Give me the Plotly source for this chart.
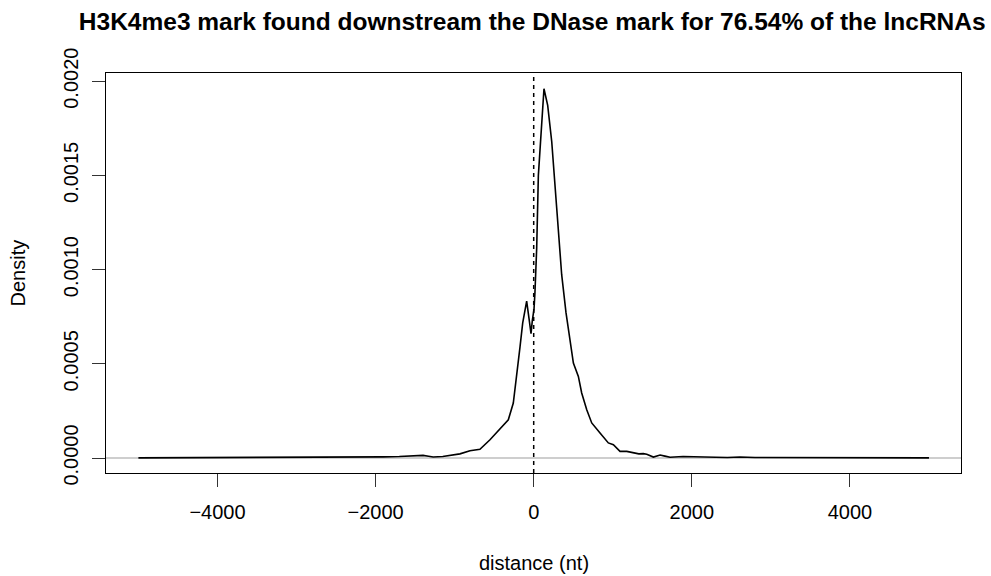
import plotly.graph_objects as go

# ---- data ----
distance_nt = [-5000, -4500, -4000, -3500, -3000, -2600, -2300, -2000, -1900, -1700,
               -1550, -1440, -1400, -1330, -1271, -1150, -975, -933, -806, -680,
               -553, -480, -405, -321, -258, -215, -173, -139, -89, -56,
               -34, -17, 4, 16, 38, 59, 80, 130, 177, 228,
               291, 354, 409, 438, 502, 565, 607, 671, 734, 839,
               944, 1008, 1092, 1177, 1261, 1330, 1387, 1430, 1514, 1599,
               1660, 1725, 1890, 1978, 2105, 2300, 2450, 2608, 2800, 3100,
               3500, 4000, 4500, 5000]
density = [5e-7, 1e-6, 1.5e-6, 2e-6, 2.5e-6, 3e-6, 4e-6, 5e-6, 6e-6, 8e-6,
           9e-6, 1.3e-5, 1.4e-5, 9e-6, 5e-6, 8e-6, 2.0e-5, 2.2e-5, 3.9e-5, 4.6e-5,
           9.7e-5, 1.3e-4, 1.68e-4, 2.03e-4, 2.92e-4, 4.33e-4, 5.9e-4, 7.17e-4, 8.33e-4, 7.3e-4,
           6.6e-4, 7.3e-4, 7.9e-4, 8.8e-4, 1.115e-3, 1.50e-3, 1.63e-3, 1.96e-3, 1.872e-3, 1.68e-3,
           1.327e-3, 9.73e-4, 7.7e-4, 6.9e-4, 5.04e-4, 4.33e-4, 3.45e-4, 2.56e-4, 1.86e-4, 1.33e-4,
           8.0e-5, 7.1e-5, 3.5e-5, 3.5e-5, 2.65e-5, 2.2e-5, 2.3e-5, 2.0e-5, 5e-6, 1.6e-5,
           1.0e-5, 4e-6, 8e-6, 8e-6, 5e-6, 4e-6, 3e-6, 5e-6, 3e-6, 2.5e-6,
           2e-6, 1.5e-6, 1e-6, 5e-7]

x_ticks = [-4000, -2000, 0, 2000, 4000]
x_tick_text = ["\u22124000", "\u22122000", "0", "2000", "4000"]
y_ticks = [0.0, 0.0005, 0.0010, 0.0015, 0.0020]
y_tick_text = ["0.0000", "0.0005", "0.0010", "0.0015", "0.0020"]

title_text = "H3K4me3 mark found downstream the DNase mark for 76.54% of the lncRNAs"
x_title = "distance (nt)"
y_title = "Density"

FONT = "Liberation Sans, Arial, Helvetica, sans-serif"

fig = go.Figure()
fig.add_trace(go.Scatter(x=distance_nt, y=density, mode="lines",
                         line=dict(color="black", width=1.6), hoverinfo="skip",
                         showlegend=False))

# grey zero line and dashed vertical line at 0
fig.add_shape(type="line", xref="paper", x0=0, x1=1, yref="y", y0=0, y1=0,
              line=dict(color="#bebebe", width=1.5), layer="below")
fig.add_shape(type="line", xref="x", x0=0, x1=0, yref="paper", y0=0, y1=1,
              line=dict(color="black", width=1.5, dash="4px,4px"))

fig.update_layout(
    width=991, height=576,
    margin=dict(l=106, r=30, t=73, b=103),
    paper_bgcolor="white", plot_bgcolor="white",
    font=dict(family=FONT, size=20, color="black"),
    title=dict(text="<b>" + title_text + "</b>", x=0.4985, xref="paper", xanchor="center",
               y=1 - 21 / 576, yref="container", yanchor="middle",
               font=dict(family=FONT, size=24.5, color="black")),
    xaxis=dict(range=[-5410, 5405], showgrid=False, zeroline=False,
               showline=True, mirror=True, linecolor="black", linewidth=1.2,
               ticks="outside", ticklen=13, tickwidth=1.2, tickcolor="#333",
               tickvals=x_ticks, ticktext=x_tick_text,
               tickfont=dict(size=20), ticklabelstandoff=8),
    yaxis=dict(range=[-0.0000796, 0.0020435], showgrid=False, zeroline=False,
               showline=True, mirror=True, linecolor="black", linewidth=1.2,
               ticks="outside", ticklen=13, tickwidth=1.2, tickcolor="#333",
               tickvals=y_ticks, ticktext=y_tick_text, tickangle=-90,
               tickfont=dict(size=20), ticklabelstandoff=6),
    annotations=[
        dict(text=x_title, xref="paper", yref="paper", x=0.5, y=(473 - 563) / 400,
             xanchor="center", yanchor="middle", showarrow=False,
             font=dict(family=FONT, size=20)),
        dict(text=y_title, xref="paper", yref="paper", x=(17.5 - 106) / 855, y=0.5,
             xanchor="center", yanchor="middle", showarrow=False, textangle=-90,
             font=dict(family=FONT, size=20)),
    ],
)

fig.write_html("out.html")
